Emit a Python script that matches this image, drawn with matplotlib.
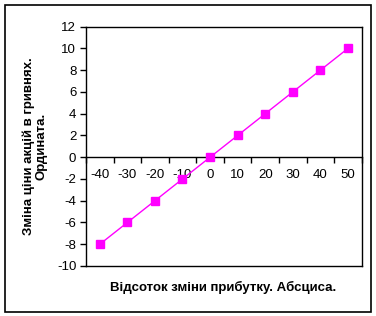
import matplotlib
matplotlib.use("Agg")
import matplotlib.pyplot as plt
from matplotlib.patches import Rectangle

plt.rcParams['font.family'] = ['Liberation Sans', 'DejaVu Sans']

categories = [-40, -30, -20, -10, 0, 10, 20, 30, 40, 50]
values = [-8, -6, -4, -2, 0, 2, 4, 6, 8, 10]
y_ticks = [-10, -8, -6, -4, -2, 0, 2, 4, 6, 8, 10, 12]
x_title = "Відсоток зміни прибутку. Абсциса."
y_title = "Зміна ціни акцій в гривнях.\nОрдината."

W, H = 376, 316
fig = plt.figure(figsize=(W / 100, H / 100), dpi=100)
fig.patch.set_facecolor('white')

# outer chart border
fig.patches.append(Rectangle((5 / W, 1 - 312 / H), 366 / W, 307 / H,
                             transform=fig.transFigure, fill=False,
                             edgecolor='black', linewidth=1.2))

left, right, top, bottom = 86 / W, 361.7 / W, 1 - 26.7 / H, 1 - 266 / H
ax = fig.add_axes([left, bottom, right - left, top - bottom])
ax.set_facecolor('white')

ax.plot(categories, values, color='#FF00FF', linewidth=1.0, marker='s',
        markersize=5.5, markerfacecolor='#FF00FF', markeredgecolor='#FF00FF',
        zorder=5, clip_on=False)

ax.set_xlim(-45, 55)
ax.set_ylim(-10, 12)
ax.set_yticks(y_ticks)
ax.set_yticklabels([str(v) for v in y_ticks], fontsize=9.5)

for s in ax.spines.values():
    s.set_linewidth(1.0)
    s.set_color('black')

# x axis at y=0
ax.spines['bottom'].set_position(('data', 0))
ax.set_xticks([c - 5 for c in categories] + [55])
ax.set_xticklabels([])
ax.tick_params(axis='x', direction='out', length=4, width=1)
ax.tick_params(axis='y', direction='out', length=4, width=1, pad=3)
for c in categories:
    ax.annotate(str(c), xy=(c, 0), xycoords='data', xytext=(0, -13),
                textcoords='offset points', ha='center', va='center',
                fontsize=9.5, zorder=1)

# bottom border of plot area
ax.axhline(-10, color='black', linewidth=1.0, clip_on=False)

fig.text(223 / W, 1 - 287 / H, x_title, ha='center', va='center',
         fontsize=9.5, fontweight='bold')
fig.text(35 / W, 1 - 146 / H, y_title, ha='center', va='center',
         fontsize=9.5, fontweight='bold', rotation=90, linespacing=1.15)

fig.savefig('out.png', dpi=100)
